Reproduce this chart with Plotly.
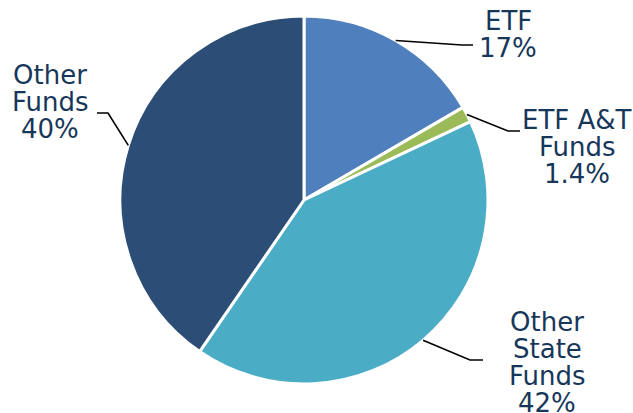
import math
import plotly.graph_objects as go

# slice data (clockwise from 12 o'clock)
labels = ["ETF", "ETF A&T Funds", "Other State Funds", "Other Funds"]
values = [16.6, 1.4, 41.6, 40.4]
label_lines = [["ETF", "17%"],
               ["ETF A&T", "Funds", "1.4%"],
               ["Other", "State", "Funds", "42%"],
               ["Other", "Funds", "40%"]]
colors = ["#4f80bd", "#9bbb59", "#4bacc6", "#2c4d75"]

W, H = 633, 413
ML, MR, MT, MB = 120, 145, 16, 29
plot_w = W - ML - MR
plot_h = H - MT - MB
R = min(plot_w, plot_h) / 2
CX = ML + plot_w / 2
CY = MT + plot_h / 2

# leader elbow / end points and text placement, in pixels
label_pos = {
    "ETF": dict(elbow=(462, 45), end=(473, 45), tx=508, ty=21),
    "ETF A&T Funds": dict(elbow=(508, 131), end=(520, 131), tx=577, ty=120),
    "Other State Funds": dict(elbow=(470, 360), end=(483, 360), tx=547, ty=322),
    "Other Funds": dict(elbow=(108, 113), end=(97, 113), tx=50, ty=75),
}
PITCH = 27
TEXT_COLOR = "#17375a"


def px(x):
    return (x - ML) / plot_w


def py(y):
    return 1 - (y - MT) / plot_h


fig = go.Figure(go.Pie(
    labels=labels, values=values, sort=False, direction="clockwise",
    rotation=0, textinfo="none", hoverinfo="label+percent",
    marker=dict(colors=colors, line=dict(color="white", width=3)),
    showlegend=False,
))

total = sum(values)
cum = 0
annotations = []
shapes = []
for lab, val, lines in zip(labels, values, label_lines):
    mid = (cum + val / 2) / total * 2 * math.pi
    cum += val
    ax = CX + R * math.sin(mid)
    ay = CY - R * math.cos(mid)
    p = label_pos[lab]
    pts = [(ax, ay), p["elbow"], p["end"]]
    path = "M " + " L ".join(f"{px(x)},{py(y)}" for x, y in pts)
    shapes.append(dict(type="path", xref="paper", yref="paper", path=path,
                       line=dict(color="black", width=1.6)))
    for i, t in enumerate(lines):
        annotations.append(dict(
            text=t, x=px(p["tx"]), y=py(p["ty"] + i * PITCH),
            xref="paper", yref="paper", xanchor="center", yanchor="middle",
            showarrow=False,
            font=dict(family="DejaVu Sans", size=26, color=TEXT_COLOR)))

fig.update_layout(
    width=W, height=H,
    margin=dict(l=ML, r=MR, t=MT, b=MB),
    paper_bgcolor="white", plot_bgcolor="white",
    annotations=annotations, shapes=shapes,
)

# drop the browser's default 8px body margin so the chart sits at 0,0
fig.write_html("out.html", config={"displayModeBar": False},
               post_script="document.body.style.margin='0';")
